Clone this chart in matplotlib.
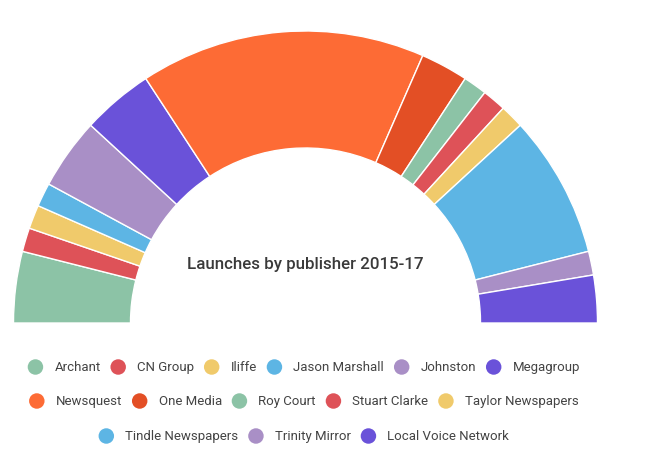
import matplotlib
matplotlib.use("Agg")
from matplotlib import pyplot as plt

plt.rcParams['font.family'] = ['Roboto', 'DejaVu Sans']

publishers = ['Archant', 'CN Group', 'Iliffe', 'Jason Marshall', 'Johnston', 'Megagroup',
              'Newsquest', 'One Media', 'Roy Court', 'Stuart Clarke', 'Taylor Newspapers',
              'Tindle Newspapers', 'Trinity Mirror', 'Local Voice Network']
launches = [3, 1, 1, 1, 3, 3, 12, 2, 1, 1, 1, 6, 1, 2]
colors = ['#8cc3a6', '#de5258', '#f0ca6b', '#5db5e4', '#a98fc6', '#6a52d9',
          '#fd6b35', '#e34f25', '#8cc3a6', '#de5258', '#f0ca6b', '#5db5e4',
          '#a98fc6', '#6a52d9']
legend_rows = [6, 5, 3]

W, H = 664, 456
fig = plt.figure(figsize=(W / 100, H / 100), dpi=100)
ax = fig.add_axes([0, 0, 1, 1])

# half donut: pad with an invisible wedge the size of the total
cx, cy = 305.5, H - 324
wedges, _ = ax.pie(launches + [sum(launches)], colors=colors + ['white'],
                   startangle=180, counterclock=False, center=(cx, cy), radius=292,
                   wedgeprops=dict(width=117, edgecolor='white', linewidth=1))
wedges[-1].set_visible(False)

ax.set_xlim(0, W)
ax.set_ylim(0, H)
ax.set_aspect('auto')
ax.axis('off')

ax.text(cx, H - 264, 'Launches by publisher 2015-17', ha='center', va='center',
        fontsize=12.2, fontweight='medium', color='#3a3a3a')

# legend, laid out row by row and centred
renderer = fig.canvas.get_renderer()
row_y = [H - 368, H - 402, H - 437]
gap_in, gap_out = 19, 17.5
i = 0
for r, n in enumerate(legend_rows):
    items = []
    for k in range(i, i + n):
        t = ax.text(0, row_y[r], publishers[k], ha='left', va='center',
                    fontsize=9.5, color='#444444')
        w = t.get_window_extent(renderer).width
        items.append((k, t, w))
    total = 7.5 + sum(gap_in + w for _, _, w in items) + gap_out * (n - 1)
    x = 304 - total / 2 + 7.5
    for k, t, w in items:
        ax.scatter([x], [row_y[r]], s=124, color=colors[k], edgecolor='none')
        t.set_x(x + gap_in)
        x += gap_in + w + gap_out
    i += n

plt.savefig('out.png', dpi=100)
